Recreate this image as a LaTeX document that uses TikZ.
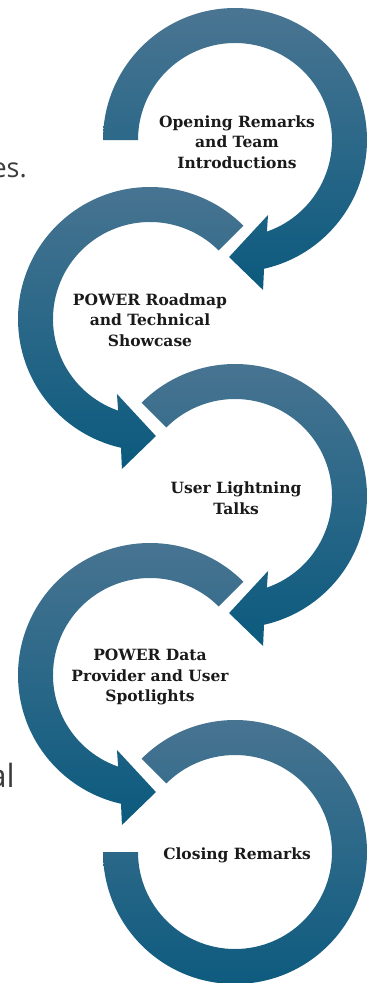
\documentclass[tikz,border=0pt]{standalone}
\usepackage{fontspec}
\newfontfamily\fragfont{Open Sans}
\newfontfamily\labelfont{DejaVu Serif}
\definecolor{ringtop}{HTML}{4A7592}
\definecolor{ringmid}{HTML}{1C668C}
\definecolor{ringbot}{HTML}{0B5A7E}
\definecolor{labelgray}{HTML}{1A1A1A}
\definecolor{fraggray}{HTML}{3C3C3C}
\tikzset{
    ring/.style={top color=ringtop, middle color=ringmid, bottom color=ringbot},
    steplabel/.style={align=center, text=labelgray, inner sep=0pt,
        font=\labelfont\bfseries\fontsize{15.5}{20.5}\selectfont},
    fragtext/.style={anchor=base east, inner sep=0pt, text=fraggray}
}

\begin{document}
\begin{tikzpicture}[x=1pt, y=1pt]
    \useasboundingbox (0,0) rectangle (367,-983);
    % text behind the arrows
    \node[fragtext, font=\fragfont\fontsize{27}{30}\selectfont] (fragA) at (27,-177) {es.};
    \node[fragtext, font=\fragfont\fontsize{32}{36}\selectfont] (fragB) at (15,-787) {al};

    % draw right-hand rings with arrow head
    \foreach \y/\s in {140/180, 496/135}
        \path[ring, shift={(235,-\y)}] (\s:132)
            arc[start angle=\s, end angle=-77.3, radius=132]
            -- (-79.4:152.6) -- (-92.9:117.2) -- (-66.2:81.9) -- (-70.8:97)
            arc[start angle=-70.8, end angle=\s, radius=97] -- cycle;

    % draw left-hand rings with arrow head
    \foreach \y in {319, 675}
        \path[ring, shift={(150,-\y)}] (45:132)
            arc[start angle=45, end angle=257.3, radius=132]
            -- (259.4:152.6) -- (272.9:117.2) -- (246.2:81.9) -- (250.8:97)
            arc[start angle=250.8, end angle=45, radius=97] -- cycle;

    % last ring, no arrow head
    \path[ring, shift={(235,-852)}] (135:132)
        arc[start angle=135, end angle=-180, radius=132] -- (-180:97)
        arc[start angle=-180, end angle=135, radius=97] -- cycle;

    % labels
    \node[steplabel] (open) at (237,-142) {Opening Remarks\\and Team\\Introductions};
    \node[steplabel] (roadmap) at (150,-320) {POWER Roadmap\\and Technical\\Showcase};
    \node[steplabel] (talks) at (236,-498) {User Lightning\\Talks};
    \node[steplabel] (spot) at (150,-677) {POWER Data\\Provider and User\\Spotlights};
    \node[steplabel] (close) at (237,-855) {Closing Remarks};
\end{tikzpicture}
\end{document}
